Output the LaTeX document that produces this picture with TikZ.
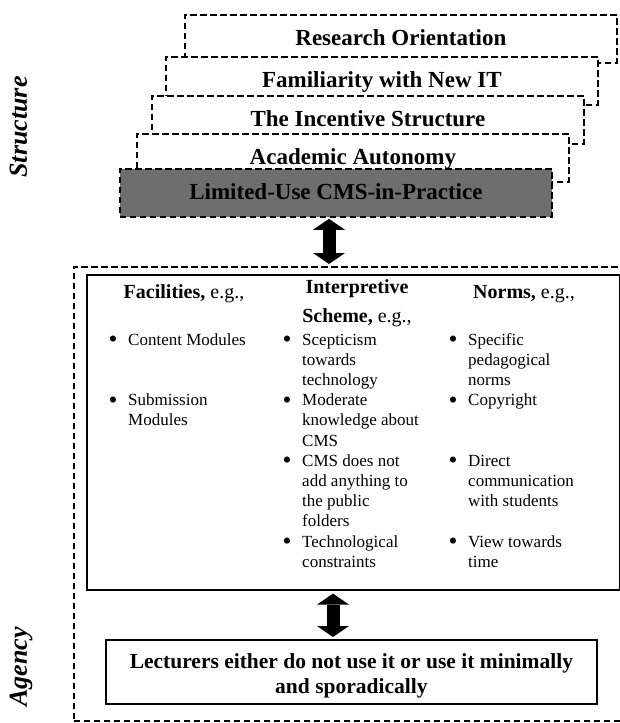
\documentclass[tikz,border=0pt]{standalone}
\usepackage{fontspec}
\usepackage{graphicx}
\setmainfont{Liberation Serif}
\usetikzlibrary{arrows.meta}
\definecolor{practicegray}{RGB}{110,110,110}
\newcommand{\bl}{\makebox[18pt][l]{\hspace{-1.5pt}\raisebox{-2.5pt}{\scalebox{1.5}{\textbullet}}}}

\tikzset{
  dashline/.style={draw=black, line width=1.8pt, dash pattern=on 6.5pt off 3.5pt},
  layerbox/.style={dashline, fill=white, anchor=north west, inner sep=0pt,
    minimum width=432pt, minimum height=48pt,
    text height=17pt, text depth=4pt,
    font=\fontsize{23}{27}\selectfont\bfseries},
  practicebox/.style={layerbox, fill=practicegray},
  sidelabel/.style={rotate=90, anchor=base, inner sep=0pt,
    font=\fontsize{26}{30}\selectfont\bfseries\itshape},
  frame/.style={draw=black, line width=1.6pt, anchor=north west, inner sep=0pt},
  colhead/.style={anchor=base, inner sep=0pt, font=\fontsize{20}{29}\selectfont},
  collist/.style={anchor=base west, inner sep=0pt, font=\fontsize{17}{20.2}\selectfont},
  bigarrow/.style={line width=13pt,
    {Triangle[width=32pt,length=11pt,line width=0pt]}-{Triangle[width=32pt,length=11pt,line width=0pt]}}
}

\begin{document}
\begin{tikzpicture}[x=1pt, y=-1pt]
\path[use as bounding box] (0,0) rectangle (620,723);
\clip (0,0) rectangle (620,723);

% side labels
\node[sidelabel] (structure) at (27,127) {Structure};
\node[sidelabel] (agency) at (27,667) {Agency};

% stacked structural layers, back to front
\node[layerbox] (research) at (184,14) {Research Orientation};
\node[layerbox] (familiar) at (165,56) {Familiarity with New IT};
\node[layerbox] (incentive) at (151,95) {The Incentive Structure};
\node[layerbox] (autonomy) at (136,133) {Academic Autonomy};
\node[practicebox] (practice) at (119,168) {Limited-Use CMS-in-Practice};

% agency frame
\node[dashline, line width=1.6pt, anchor=north west, inner sep=0pt,
      minimum width=555pt, minimum height=454pt] (agencyframe) at (73,266) {};
\node[frame, minimum width=533pt, minimum height=315pt] (modalities) at (86,274) {};

% column headings
\node[colhead] (fachead) at (184,298) {\textbf{Facilities,} e.g.,};
\node[colhead] (inthead) at (357,293)
  {\begin{tabular}[t]{@{}c@{}}\textbf{Interpretive}\\ \textbf{Scheme,} e.g.,\end{tabular}};
\node[colhead] (normhead) at (524,298) {\textbf{Norms,} e.g.,};

% column lists
\node[collist] (faclist) at (110,345) {\begin{tabular}[t]{@{}l@{}l@{}}
\bl & Content Modules\\
    & \\
    & \\
\bl & Submission\\
    & Modules
\end{tabular}};
\node[collist] (intlist) at (284,345) {\begin{tabular}[t]{@{}l@{}l@{}}
\bl & Scepticism\\
    & towards\\
    & technology\\
\bl & Moderate\\
    & knowledge about\\
    & CMS\\
\bl & CMS does not\\
    & add anything to\\
    & the public\\
    & folders\\
\bl & Technological\\
    & constraints
\end{tabular}};
\node[collist] (normlist) at (450,345) {\begin{tabular}[t]{@{}l@{}l@{}}
\bl & Specific\\
    & pedagogical\\
    & norms\\
\bl & Copyright\\
    & \\
    & \\
\bl & Direct\\
    & communication\\
    & with students\\
    & \\
\bl & View towards\\
    & time
\end{tabular}};

% outcome
\node[frame, line width=1.8pt, minimum width=491pt, minimum height=64pt, align=center,
      font=\fontsize{21.5}{25}\selectfont\bfseries] (outcome) at (105,639)
  {\rule{0pt}{22pt}Lecturers either do not use it or use it minimally\\ and sporadically};

% two-way links
\coordinate (ax1) at (329,0);
\coordinate (ax2) at (333,0);
\draw[bigarrow] ([yshift=-1pt]practice.south -| ax1) -- ([yshift=2pt]agencyframe.north -| ax1);
\draw[bigarrow] ([yshift=-3pt]modalities.south -| ax2) -- ([yshift=2pt]outcome.north -| ax2);
\end{tikzpicture}
\end{document}
